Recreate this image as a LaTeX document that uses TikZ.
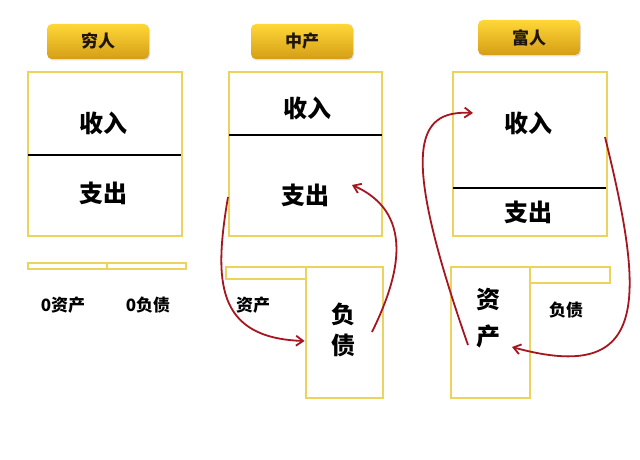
\documentclass[tikz,border=0pt]{standalone}
\usepackage{fontspec}
\setmainfont{Noto Sans CJK SC}[BoldFont={* Black}]
\usetikzlibrary{arrows.meta,shadows}
\definecolor{boxyellow}{RGB}{236,212,92}
\definecolor{goldtop}{RGB}{255,215,55}
\definecolor{goldbot}{RGB}{212,158,22}
\definecolor{arrowred}{RGB}{165,22,32}
\definecolor{inkdark}{RGB}{30,22,14}
\tikzset{
  header/.style={rounded corners=5pt, top color=goldtop, bottom color=goldbot,
    minimum width=102pt, minimum height=35pt, inner sep=0pt, text=inkdark,
    font=\bfseries\fontsize{17}{17}\selectfont,
    drop shadow={opacity=0.25, shadow xshift=1pt, shadow yshift=-1.5pt}},
  ybox/.style={draw=boxyellow, line width=2.8pt, inner sep=0pt},
  bigtext/.style={font=\bfseries\fontsize{24}{24}\selectfont, text=black},
  smalltext/.style={font=\bfseries\fontsize{17}{17}\selectfont, text=black},
  divider/.style={line width=1.6pt, black},
  flow/.style={arrowred, line width=1.8pt, -{Straight Barb[length=7pt,width=10pt,line width=1.8pt]}}
}
\begin{document}
\begin{tikzpicture}[x=1pt,y=-1pt]
  \useasboundingbox[fill=white] (0,0) rectangle (640,460);

  % headers
  \node[header] (poorhead) at (98,41.5) {穷人};
  \node[header] (midhead) at (302,41.5) {中产};
  \node[header] (richhead) at (529,37.5) {富人};

  % poor
  \node[ybox, minimum width=154pt, minimum height=164pt] (poorbox) at (105,154) {};
  \draw[divider] (28,155) -- (181,155);
  \node[bigtext] (poorin) at (103,123) {收入};
  \node[bigtext] (poorout) at (103,193) {支出};
  \node[ybox, minimum width=79pt, minimum height=6pt] (poorasset) at (67.5,266) {};
  \node[ybox, minimum width=79pt, minimum height=6pt] (poorliab) at (146.5,266) {};
  \node[smalltext] (poorassettext) at (63,305) {0资产};
  \node[smalltext] (poorliabtext) at (148,305) {0负债};

  % middle class
  \node[ybox, minimum width=153pt, minimum height=164pt] (midbox) at (305.5,154) {};
  \draw[divider] (229,135) -- (382,135);
  \node[bigtext] (midin) at (307,108) {收入};
  \node[bigtext] (midout) at (305,195) {支出};
  \node[ybox, minimum width=80pt, minimum height=12pt] (midasset) at (266,273) {};
  \node[ybox, minimum width=77pt, minimum height=131pt] (midliab) at (344.5,332.5) {};
  \node[smalltext] (midassettext) at (253,305) {资产};
  \node[bigtext, align=center, font=\bfseries\fontsize{24}{31}\selectfont] (midliabtext) at (343,330) {负\\债};

  % rich
  \node[ybox, minimum width=154pt, minimum height=164pt] (richbox) at (530,154) {};
  \draw[divider] (453,188) -- (606,188);
  \node[bigtext] (richin) at (528,123) {收入};
  \node[bigtext] (richout) at (528,212) {支出};
  \node[ybox, minimum width=79pt, minimum height=131pt] (richasset) at (490.5,332.5) {};
  \node[ybox, minimum width=80pt, minimum height=16pt] (richliab) at (570,275) {};
  \node[bigtext, align=center, font=\bfseries\fontsize{24}{37}\selectfont] (richassettext) at (488,318) {资\\产};
  \node[smalltext] (richliabtext) at (566,310) {负债};

  % flows
  \coordinate (m1) at (228,197);
  \coordinate (m2) at (372,332);
  \coordinate (r1) at (468,345);
  \coordinate (r2) at (605,137);
  \draw[flow] (m1) .. controls (214,280) and (215,338) .. (midliab.west |- 0,341);
  \draw[flow] (m2) .. controls (395,285) and (420,215) .. (352,185);
  \draw[flow] (r1) .. controls (400,150) and (415,110) .. (473,113);
  \draw[flow] (r2) .. controls (645,300) and (650,385) .. (512,347);
\end{tikzpicture}
\end{document}
